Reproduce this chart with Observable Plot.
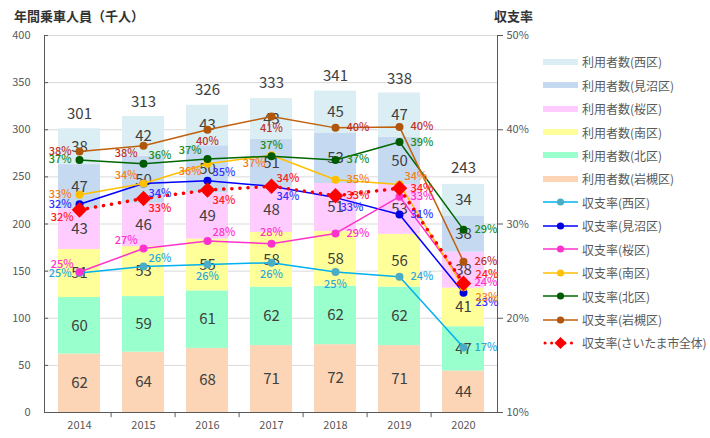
<!DOCTYPE html>
<html><head><meta charset="utf-8">
<script src="https://cdn.jsdelivr.net/npm/d3@7"></script>
<script src="https://cdn.jsdelivr.net/npm/@observablehq/plot@0.6"></script>
<style>
body{margin:0;background:#fff;font-family:"Noto Sans CJK JP","Noto Sans",sans-serif;}
#wrap{position:relative;width:710px;height:438px;overflow:hidden;}
#chart{position:absolute;left:0;top:0;}
.title{position:absolute;font-weight:bold;font-size:13px;color:#333;top:6px;}
#legend{position:absolute;left:543px;top:50px;font-size:12px;color:#595959;}
.item{display:flex;align-items:center;height:23.45px;white-space:nowrap;}
.item svg{margin-right:4px;}
.tight{letter-spacing:-0.3px;}
</style></head><body>
<div id="wrap">
<div id="chart"></div>
<div class="title" style="left:14px">年間乗車人員（千人）</div>
<div class="title" style="left:494px">収支率</div>
<div id="legend"></div>
</div>
<script>
// ---- data ----
const years = ["2014","2015","2016","2017","2018","2019","2020"];
const districts = ["西区","見沼区","桜区","南区","北区","岩槻区"];
const ridersNishi    = [38,42,43,43,45,47,34];
const ridersMinuma   = [47,50,50,51,53,50,38];
const ridersSakura   = [43,46,49,48,51,53,38];
const ridersMinami   = [51,53,55,58,58,56,41];
const ridersKita     = [60,59,61,62,62,62,47];
const ridersIwatsuki = [62,64,68,71,72,71,44];
const ridersTotal    = [301,313,326,333,341,338,243];
const rateNishi    = [24.8,25.5,25.7,25.9,24.9,24.4,16.9];
const rateMinuma   = [32.1,34.3,34.6,34.0,32.8,31.0,22.7];
const rateSakura   = [24.9,27.4,28.2,27.9,29.0,32.9,23.8];
const rateMinami   = [33.1,34.3,36.4,37.3,34.7,34.2,23.3];
const rateKita     = [36.8,36.4,36.9,37.2,36.8,38.7,29.4];
const rateIwatsuki = [37.7,38.3,40.0,41.4,40.2,40.3,26.0];
const rateCity     = [31.5,32.7,33.6,34.0,33.0,33.8,23.7];
const leftTicks  = [0,50,100,150,200,250,300,350,400];
const rightTicks = [10,20,30,40,50];
const cityName = "さいたま市全体";

// ---- styles ----
const barColors = {"西区":"#DAEEF3","見沼区":"#C5D9F1","桜区":"#FFCCFF","南区":"#FFFF99","北区":"#99FFCC","岩槻区":"#FBD5B5"};
const lineStyles = [
  {name:"西区",  values:rateNishi,    line:"#00B0F0", dot:"#4BACC6", label:"#2FA8D8", pos:["l","ar","b","b","b","r","r"]},
  {name:"見沼区",values:rateMinuma,   line:"#0000FF", dot:"#0000E0", label:"#3333FF", pos:["l","br","ar","br","br","r","rb"]},
  {name:"桜区",  values:rateSakura,   line:"#FF33CC", dot:"#FF33CC", label:"#FF33CC", pos:["al","al","ar","a","r","r","r"]},
  {name:"南区",  values:rateMinami,   line:"#FFC000", dot:"#FFC000", label:"#F57F20", pos:["l","al","bl","bl","r","ar","rb"]},
  {name:"北区",  values:rateKita,     line:"#006600", dot:"#005A00", label:"#228B22", pos:["l","ar","al","a","r","r","r"]},
  {name:"岩槻区",values:rateIwatsuki, line:"#C0600C", dot:"#B0560A", label:"#C0302A", pos:["l","bl","b","b","r","r","r"]}
];
const cityStyle = {line:"#FF0000", label:"#FF2020", pos:["bl","br","br","ar","r","r","ra"]};
const posDefs = {
  l:{anchor:"end",dx:-8,dy:0}, r:{anchor:"start",dx:11,dy:0},
  a:{anchor:"middle",dx:0,dy:-11}, b:{anchor:"middle",dx:0,dy:12},
  al:{anchor:"end",dx:-6,dy:-8}, ar:{anchor:"start",dx:5,dy:-8},
  bl:{anchor:"end",dx:-6,dy:8}, br:{anchor:"start",dx:5,dy:10},
  rb:{anchor:"start",dx:12,dy:10}, ra:{anchor:"start",dx:12,dy:-9}
};

// ---- tables ----
const stackOrder = [["岩槻区",ridersIwatsuki],["北区",ridersKita],["南区",ridersMinami],["桜区",ridersSakura],["見沼区",ridersMinuma],["西区",ridersNishi]];
const barTable = stackOrder.flatMap(([d,vals]) => years.map((y,i)=>({year:y,district:d,value:vals[i]})));
const totalTable = years.map((y,i)=>({year:y,total:ridersTotal[i]}));
const toLeft = r => (r-10)*10;
function rateTable(values,pos){ return years.map((y,i)=>({year:y,rate:values[i],y:toLeft(values[i]),pos:pos[i]})); }

const font = "'Noto Sans CJK JP', sans-serif";
function labelMarks(t,color){
  return Object.keys(posDefs).filter(k=>t.some(d=>d.pos===k)).map(k=>{
    const p=posDefs[k];
    return Plot.text(t.filter(d=>d.pos===k),{x:"year",y:"y",text:d=>Math.round(d.rate)+"%",fill:color,
      textAnchor:p.anchor,dx:p.dx,dy:p.dy,fontSize:11,fontWeight:500});
  });
}

const marks = [
  Plot.gridY(leftTicks.slice(1),{stroke:"#D9D9D9",strokeOpacity:1}),
  Plot.barY(barTable,Plot.stackY({x:"year",y:"value",fill:"district"})),
  Plot.text(barTable,Plot.stackY({x:"year",y:"value",text:d=>String(d.value),fill:"#404040",fontSize:15})),
  Plot.text(totalTable,{x:"year",y:"total",text:d=>String(d.total),dy:-15,fill:"#404040",fontSize:15}),
  Plot.frame({anchor:"left",stroke:"#595959"}),
  Plot.frame({anchor:"right",stroke:"#595959"}),
  Plot.frame({anchor:"bottom",stroke:"#595959"}),
  Plot.ruleX(years.slice(1),{x:d=>d,dx:-32.4,y1:0,y2:-5.5,stroke:"#595959"}),
  Plot.axisY(leftTicks,{anchor:"left",tickSize:-4,tickPadding:18,stroke:"#595959",fill:"#595959",fontSize:11,label:null}),
  Plot.axisY(rightTicks.map(toLeft),{anchor:"right",tickSize:5,tickPadding:4,stroke:"#595959",fill:"#595959",fontSize:11,label:null,tickFormat:v=>(v/10+10)+"%"}),
  Plot.axisX({tickSize:0,tickPadding:9,fill:"#595959",fontSize:11,label:null})
];
for (const s of lineStyles){
  const t = rateTable(s.values,s.pos);
  marks.push(Plot.line(t,{x:"year",y:"y",stroke:s.line,strokeWidth:1.5}));
  marks.push(Plot.dot(t,{x:"year",y:"y",fill:s.dot,r:4}));
}
const cityT = rateTable(rateCity,cityStyle.pos);
marks.push(Plot.line(cityT,{x:"year",y:"y",stroke:cityStyle.line,strokeWidth:3.5,strokeDasharray:"0.1,8",strokeLinecap:"round"}));
marks.push(Plot.dot(cityT,{x:"year",y:"y",fill:cityStyle.line,symbol:"diamond2",r:7}));
for (const s of lineStyles) marks.push(...labelMarks(rateTable(s.values,s.pos),s.label));
marks.push(...labelMarks(cityT,cityStyle.label));

const chart = Plot.plot({
  width:710,height:438,marginLeft:44,marginRight:213,marginTop:35,marginBottom:26,
  style:{fontFamily:font,fontSize:"11px",color:"#595959",background:"transparent"},
  x:{type:"band",domain:years,paddingInner:0.35,paddingOuter:0.175},
  y:{domain:[0,400]},
  color:{domain:districts,range:districts.map(d=>barColors[d])},
  marks
});
document.getElementById("chart").appendChild(chart);

// ---- legend ----
const lg = document.getElementById("legend");
function addItem(svg,text,cls){
  const div=document.createElement("div");div.className="item";
  div.innerHTML=svg+"<span"+(cls?` class="${cls}"`:"")+">"+text+"</span>";lg.appendChild(div);
}
for (const d of districts) addItem(`<svg width="35" height="10"><rect x="0" y="2" width="35" height="6" fill="${barColors[d]}"/></svg>`,`利用者数(${d})`);
for (const s of lineStyles) addItem(`<svg width="35" height="10"><line x1="0" x2="35" y1="5" y2="5" stroke="${s.line}" stroke-width="1.5"/><circle cx="17.5" cy="5" r="3.6" fill="${s.dot}"/></svg>`,`収支率(${s.name})`);
addItem(`<svg width="35" height="14"><line x1="2" x2="33" y1="7" y2="7" stroke="#FF0000" stroke-width="3" stroke-dasharray="0.1,6.5" stroke-linecap="round"/><path d="M17.5,1 L23.5,7 L17.5,13 L11.5,7Z" fill="#FF0000"/></svg>`,`収支率(${cityName})`,"tight");
</script>
</body></html>
